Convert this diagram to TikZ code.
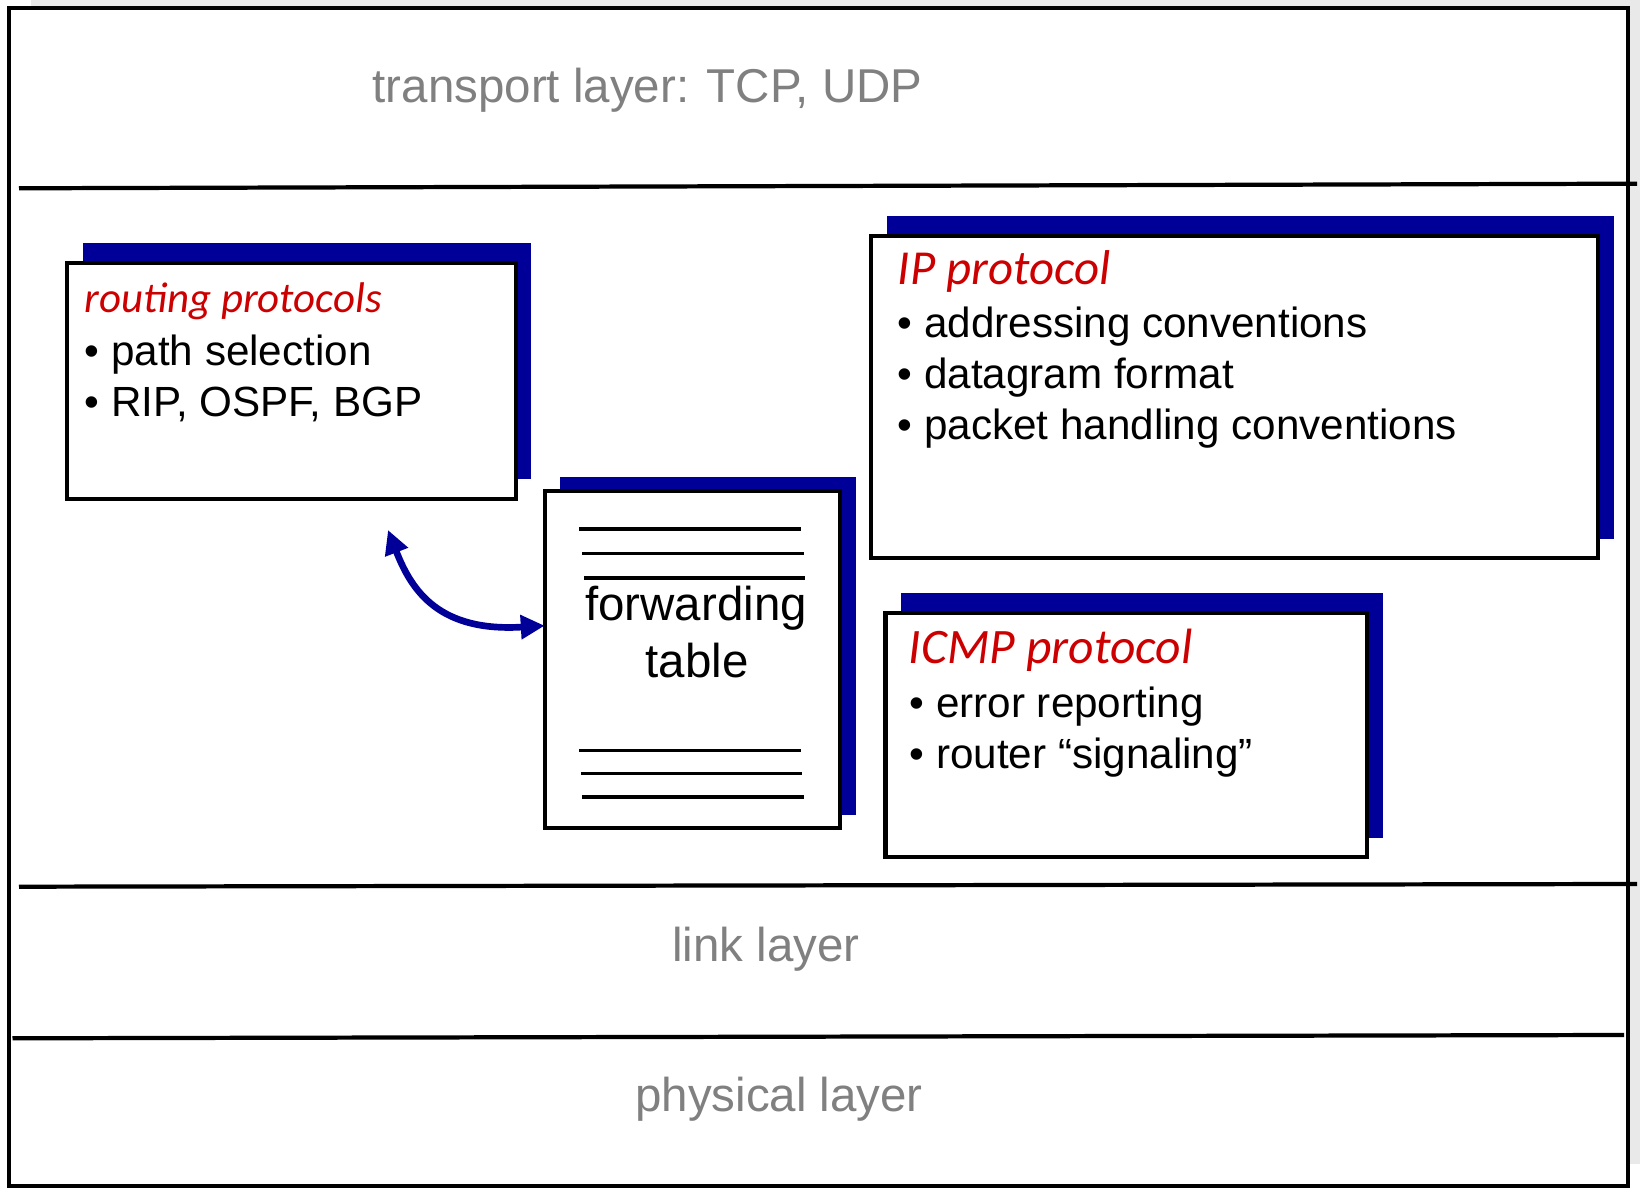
\documentclass[tikz,border=0pt]{standalone}
\usepackage{fontspec}
\setmainfont{Liberation Sans}
\newfontfamily\titlefont{Carlito}
\usetikzlibrary{arrows.meta, positioning, shadows, calc}
\definecolor{LBlue}{HTML}{000099}
\definecolor{LRed}{HTML}{CC0000}
\definecolor{LGray}{HTML}{808080}
\definecolor{LBack}{HTML}{E9E9E9}
\tikzset{
    protobox/.style={
        rectangle,
        draw=black,
        fill=white,
        line width=1.15pt,
        anchor=north west,
        inner sep=0pt,
        outer sep=0pt,
        drop shadow={shadow xshift=0.155cm, shadow yshift=#1, fill=LBlue, opacity=1}
    },
    protobox/.default=0.195cm,
    layerline/.style={
        draw=black,
        line width=1.2pt
    },
    layertext/.style={
        font=\fontsize{13.5}{16}\selectfont,
        text=LGray,
        anchor=base,
        inner sep=0pt
    },
    titletext/.style={
        font=\titlefont\itshape\fontsize{#1}{16}\selectfont,
        text=LRed,
        anchor=base west,
        inner sep=0pt
    },
    titletext/.default=13.9,
    itemtext/.style={
        font=\fontsize{12}{14.4}\selectfont,
        anchor=base west,
        inner sep=0pt
    },
    tabletext/.style={
        font=\fontsize{13.5}{16}\selectfont,
        anchor=base,
        inner sep=0pt
    },
    tableline/.style={
        draw=black,
        line width=0.95pt
    },
    linkarrow/.style={
        <->,
        >={Triangle[length=6.8pt, width=6.6pt]},
        draw=LBlue,
        line width=1.9pt
    }
}

\begin{document}
\begin{tikzpicture}[x=0.01cm, y=-0.01cm]
    \useasboundingbox (0,0) rectangle (1640,1189);

    % Frame and layers
    \fill[LBack] (31,0) rectangle (1640,1164);
    \draw[line width=1.15pt, fill=white] (9,8) rectangle (1628,1186);

    \draw[layerline] (19,188.3) -- (1637,183.7);
    \draw[layerline] (19,886.7) -- (1637,884);
    \draw[layerline] (12.5,1038.3) -- (1624,1035);

    \node[layertext] (transport) at (647.5,103) {transport layer: TCP, UDP};
    \node[layertext] (link) at (766,961.5) {link layer};
    \node[layertext] (physical) at (779,1111.5) {physical layer};

    % Boxes
    \node[protobox, minimum width=4.483cm, minimum height=2.36cm] (routing) at (67,262.7) {};
    \node[protobox=0.135cm, minimum width=2.953cm, minimum height=3.373cm] (fwd) at (544.7,490.7) {};
    \node[protobox, minimum width=7.27cm, minimum height=3.22cm] (ip) at (871,236) {};
    \node[protobox, minimum width=4.812cm, minimum height=2.446cm] (icmp) at (885.5,612.7) {};

    % Routing text
    \node[titletext=12.2] (routingtitle) at (84,312.7) {routing protocols};
    \node[itemtext] (routing1) at (84,365.7) {• path selection};
    \node[itemtext] (routing2) at (84,416.7) {• RIP, OSPF, BGP};

    % IP text
    \node[titletext] (iptitle) at (897,285) {IP protocol};
    \node[itemtext] (ip1) at (897,337.3) {• addressing conventions};
    \node[itemtext] (ip2) at (897,389) {• datagram format};
    \node[itemtext] (ip3) at (897,440) {• packet handling conventions};

    % ICMP text
    \node[titletext=14.1] (icmptitle) at (908,663.3) {ICMP protocol};
    \node[itemtext] (icmp1) at (909,717.3) {• error reporting};
    \node[itemtext] (icmp2) at (909,768.3) {• router “signaling”};

    % Forwarding table
    \node[tabletext] (fwd1) at (696,621) {forwarding};
    \node[tabletext] (fwd2) at (697,677.3) {table};
    \foreach \y/\xa/\xb in {529/579/801, 553.7/582/804, 578/584/805,
                            750.3/579/801, 773.3/581/802, 797/582/804}
        \draw[tableline] (\xa,\y) -- (\xb,\y);

    % Arrow
    \coordinate (rtip) at (388,530);
    \coordinate (fwdin) at ($(fwd.north west)!0.4!(fwd.south west)$);
    \draw[linkarrow] (rtip) .. controls (412,592) and (440,632) .. (fwdin);

\end{tikzpicture}
\end{document}
